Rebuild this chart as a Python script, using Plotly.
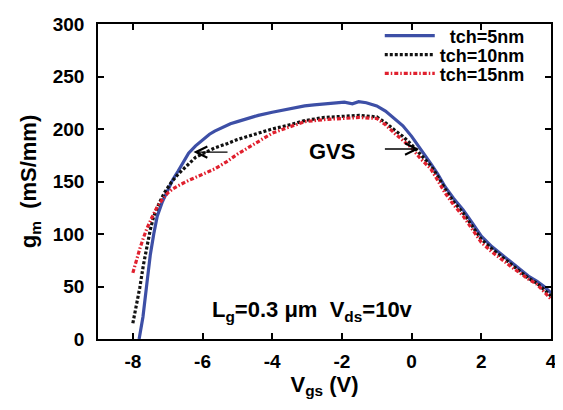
import plotly.graph_objects as go

# tch = 5 nm (blue, solid)
vgs_5 = [-7.82, -7.71, -7.6, -7.5, -7.4, -7.3, -7.15, -7.0, -6.85, -6.7, -6.55, -6.4, -6.2, -6.0,
         -5.8, -5.65, -5.4, -5.2, -5.0, -4.7, -4.4, -4.0, -3.7, -3.4, -3.07, -2.8, -2.5, -2.2,
         -1.93, -1.7, -1.52, -1.3, -1.0, -0.75, -0.49, -0.25, 0.0, 0.24, 0.4, 0.55, 0.75, 0.96,
         1.2, 1.48, 1.75, 2.0, 2.3, 2.6, 2.85, 3.1, 3.35, 3.6, 3.8, 4.0]
gm_5 = [0, 21, 52, 80, 100, 117, 131, 142, 152, 160, 169, 177, 184, 190,
        195, 198, 202, 205, 207, 210, 213, 216, 218, 220, 222, 223, 224, 225,
        225.5, 224, 226, 225, 222, 217, 210, 203, 193, 182, 175, 167, 157, 145,
        134, 123, 110, 98, 88, 80, 74, 67, 60, 55, 50, 44]

# tch = 10 nm (black, dotted)
vgs_10 = [-8.0, -7.9, -7.8, -7.7, -7.6, -7.5, -7.4, -7.25, -7.1, -6.9, -6.7, -6.45, -6.2, -5.9,
          -5.65, -5.3, -5.0, -4.7, -4.4, -4.0, -3.5, -3.07, -2.5, -1.93, -1.5, -1.0, -0.75,
          -0.49, -0.25, 0.0, 0.25, 0.55, 0.75, 0.96, 1.2, 1.48, 1.75, 2.0, 2.3, 2.6, 2.85, 3.1,
          3.35, 3.6, 3.8, 4.0]
gm_10 = [15, 32, 49, 70, 89, 104, 117, 129, 139, 149, 157, 165, 173, 178,
         182, 186, 190, 193, 196, 200, 204, 208, 211, 212.5, 213, 211.5, 206,
         199, 193, 185, 176, 165, 155, 143, 131, 120, 107, 95, 86, 78, 71, 64,
         58, 53, 47, 41]

# tch = 15 nm (red, dash-dot)
vgs_15 = [-8.0, -7.9, -7.8, -7.7, -7.6, -7.45, -7.3, -7.15, -7.0, -6.85, -6.7, -6.4, -6.06,
          -5.85, -5.65, -5.3, -5.0, -4.7, -4.4, -4.0, -3.5, -3.07, -2.5, -1.93, -1.5, -1.0,
          -0.75, -0.49, -0.25, 0.0, 0.25, 0.55, 0.75, 0.96, 1.2, 1.48, 1.75, 2.0, 2.3, 2.6,
          2.85, 3.1, 3.35, 3.6, 3.8, 4.0]
gm_15 = [63, 75, 86, 96, 105, 116, 126, 133, 139, 143, 146, 151, 156,
         159, 162, 169, 176, 182, 188, 196, 202, 207, 209, 210, 211, 210,
         204, 196, 189, 182, 172, 162, 151, 139, 128, 117, 104, 92, 83, 75,
         69, 63, 57, 52, 45, 38]

x_ticks = [-8, -6, -4, -2, 0, 2, 4]
y_ticks = [0, 50, 100, 150, 200, 250, 300]

FONT = "Liberation Sans, Arial, Helvetica, sans-serif"
NB = "\u00a0"

fig = go.Figure()
fig.add_trace(go.Scatter(x=vgs_5, y=gm_5, mode="lines", name=NB * 2 + "tch=5nm",
                         legend="legend",
                         line=dict(color="#3d4fa6", width=3.2)))
fig.add_trace(go.Scatter(x=vgs_10, y=gm_10, mode="lines", name="tch=10nm",
                         legend="legend2",
                         line=dict(color="#111111", width=3.2, dash="3px,2px")))
fig.add_trace(go.Scatter(x=vgs_15, y=gm_15, mode="lines", name="tch=15nm",
                         legend="legend3",
                         line=dict(color="#e0202e", width=3.2, dash="4px,2px,1.5px,2px")))

axis_common = dict(showgrid=False, zeroline=False, showline=True, linecolor="black",
                   linewidth=1.5, mirror="ticks", ticks="inside", ticklen=6,
                   tickwidth=1.5, tickcolor="black", automargin=False,
                   tickfont=dict(family=FONT, size=19, color="black", weight="bold"))

fig.update_xaxes(range=[-9, 4], tickvals=x_ticks, ticktext=[str(v) for v in x_ticks],
                 ticklabelstandoff=4,
                 title=dict(text="V<sub>gs</sub> (V)", standoff=4,
                            font=dict(family=FONT, size=22, color="black", weight="bold")),
                 **axis_common)
fig.update_yaxes(range=[0, 300], tickvals=y_ticks, ticktext=[str(v) for v in y_ticks],
                 ticklabelstandoff=8,
                 title=dict(text="g<sub>m</sub>" + NB * 2 + "(mS/mm)" + NB * 2, standoff=10,
                            font=dict(family=FONT, size=22, color="black", weight="bold")),
                 **axis_common)

fig.add_annotation(x=-2.29, y=179, xref="x", yref="y", text="GVS", showarrow=False,
                   font=dict(family=FONT, size=22, color="black", weight="bold"))
fig.add_annotation(x=-6.26, y=178, ax=-5.24, ay=178, xref="x", yref="y",
                   axref="x", ayref="y", text="", showarrow=True, arrowhead=5,
                   arrowsize=1.6, arrowwidth=1.4, arrowcolor="black")
fig.add_annotation(x=0.21, y=181, ax=-0.81, ay=181, xref="x", yref="y",
                   axref="x", ayref="y", text="", showarrow=True, arrowhead=5,
                   arrowsize=1.6, arrowwidth=1.4, arrowcolor="black")
fig.add_annotation(x=-2.85, y=27, xref="x", yref="y",
                   text="L<sub>g</sub>=0.3 \u03bcm  V<sub>ds</sub>=10v", showarrow=False,
                   font=dict(family=FONT, size=22, color="black", weight="bold"))

leg_common = dict(x=0.622, xanchor="left", yanchor="middle", bgcolor="rgba(0,0,0,0)",
                  borderwidth=0, itemwidth=50,
                  font=dict(family=FONT, size=18, color="black", weight="bold"))

fig.update_layout(
    width=555, height=402,
    margin=dict(l=90, r=12, t=9, b=71),
    paper_bgcolor="white", plot_bgcolor="white",
    showlegend=True,
    legend=dict(y=0.962, **leg_common),
    legend2=dict(y=0.902, **leg_common),
    legend3=dict(y=0.842, **leg_common),
)

fig.write_html("out.html")
